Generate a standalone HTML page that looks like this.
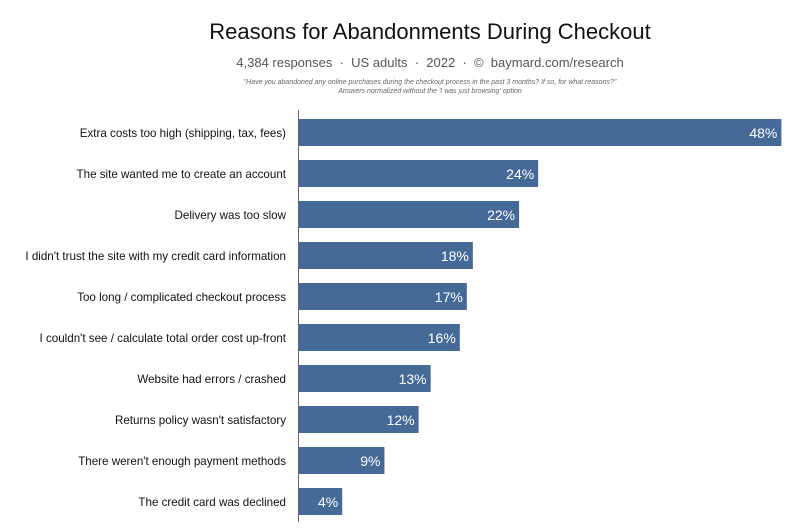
<!DOCTYPE html>
<html><head><meta charset="utf-8"><style>
body{margin:0;background:#fff;font-family:"Liberation Sans",Arial,sans-serif;}
#wrap{position:relative;width:800px;height:528px;overflow:hidden;}
.t{position:absolute;left:0;width:860px;text-align:center;}
</style></head><body>
<div id="wrap">
<div class="t" style="top:19px;font-size:22px;color:#111;">Reasons for Abandonments During Checkout</div>
<div class="t" style="top:55px;font-size:13px;color:#555;">4,384 responses &nbsp;·&nbsp; US adults &nbsp;·&nbsp; 2022 &nbsp;·&nbsp; © &nbsp;baymard.com/research</div>
<div class="t" style="top:78px;font-size:7px;color:#666;font-style:italic;line-height:9px;">"Have you abandoned any online purchases during the checkout process in the past 3 months? If so, for what reasons?"<br>Answers normalized without the 'I was just browsing' option</div>
<svg id="svg" width="800" height="528" style="position:absolute;left:0;top:0"></svg>
</div>
<script>
const categories=["Extra costs too high (shipping, tax, fees)","The site wanted me to create an account","Delivery was too slow","I didn't trust the site with my credit card information","Too long / complicated checkout process","I couldn't see / calculate total order cost up-front","Website had errors / crashed","Returns policy wasn't satisfactory","There weren't enough payment methods","The credit card was declined"];
const values=[48,23.8,21.9,17.3,16.7,16,13.1,11.9,8.5,4.3];
const labels=["48%","24%","22%","18%","17%","16%","13%","12%","9%","4%"];
const svg=document.getElementById('svg');const NS="http://www.w3.org/2000/svg";
const x0=299,xs=v=>x0+v*10.05;const yb=i=>119+i*41;
function mk(t,a){const e=document.createElementNS(NS,t);for(const k in a)e.setAttribute(k,a[k]);svg.appendChild(e);return e;}
categories.forEach((c,i)=>{
 const r=mk('rect',{x:x0,y:yb(i),width:xs(values[i])-x0,height:27,fill:'#466a98'});
 
 
 const v=mk('text',{x:xs(values[i])-4,y:yb(i)+19,'text-anchor':'end','font-size':'14','fill':'#fff','font-family':'Liberation Sans, sans-serif'});
 v.textContent=labels[i];
 
 
 const l=mk('text',{x:286,y:yb(i)+18,'text-anchor':'end','font-size':'11.6','fill':'#111','font-family':'Liberation Sans, sans-serif'});
 l.textContent=c;
 
 
});
const ax=mk('line',{x1:298.5,x2:298.5,y1:110,y2:522,stroke:'#666','stroke-width':1});


</script>
</body></html>
